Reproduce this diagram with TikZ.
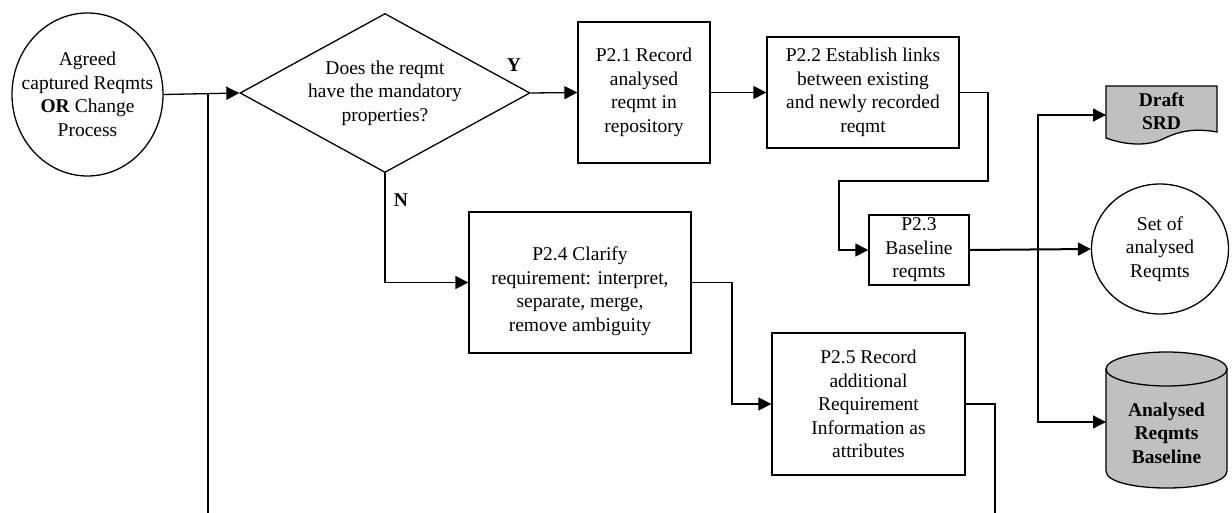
\documentclass[tikz,border=0pt]{standalone}
\usepackage{fontspec}
\setmainfont{Liberation Serif}
\usetikzlibrary{arrows.meta,shapes.geometric}
\definecolor{shade}{HTML}{C0C0C0}
\begin{document}
\begin{tikzpicture}[x=1pt,y=-1pt,
  font=\fontsize{19.5}{23.5}\selectfont,
  line width=1.3pt,
  arr/.style={-{Triangle[length=13pt,width=13pt]}},
  procbox/.style={draw,rectangle,inner sep=0pt,align=center},
  txt/.style={inner sep=0pt,align=center},
  boldtxt/.style={txt,font=\fontsize{19.5}{23.5}\selectfont\bfseries},
  lbl/.style={inner sep=0pt,font=\fontsize{19.5}{23.5}\selectfont\bfseries}]
\useasboundingbox (0,0) rectangle (1232,513);

% start terminator
\node[ellipse,draw,minimum width=151pt,minimum height=163pt,inner sep=0pt] (agreed) at (87.5,94.5) {};
\node[txt] (agreedtxt) at (agreed) {Agreed\\captured Reqmts\\\textbf{OR} Change\\Process};

% decision
\node[diamond,draw,minimum width=290pt,minimum height=159pt,aspect=1.82,inner sep=0pt,align=center]
  (dec) at (385,93) {Does the reqmt\\have the mandatory\\properties?};

% process steps
\node[procbox,minimum width=132pt,minimum height=141pt] (p21) at (644,92.5)
  {P2.1 Record\\analysed\\reqmt in\\repository};
\node[procbox,minimum width=192pt,minimum height=111pt] (p22) at (863,92.5)
  {P2.2 Establish links\\between existing\\and newly recorded\\reqmt};
\node[procbox,minimum width=100pt,minimum height=70pt] (p23) at (919,250)
  {P2.3\\Baseline\\reqmts};
\node[procbox,minimum width=222pt,minimum height=141pt] (p24) at (580,282.5) {};
\node[txt] (p24txt) at (580,291)
  {P2.4 Clarify\\requirement: interpret,\\separate, merge,\\remove ambiguity};
\node[procbox,minimum width=193pt,minimum height=142pt] (p25) at (868.5,404)
  {P2.5 Record\\additional\\Requirement\\Information as\\attributes};

% outputs: document with wavy lower edge
\filldraw[fill=shade] (1106,86) -- (1217,86) -- (1217,132)
  .. controls (1195,128) and (1180,131) .. (1165,138)
  .. controls (1148,147) and (1125,145) .. (1106,138) -- cycle;
\node[boldtxt,minimum width=111pt,minimum height=50pt] (srd) at (1161.5,111) {Draft\\SRD};
\coordinate (srdin) at (1106,115);

% outputs: set of requirements
\node[ellipse,draw,minimum width=137pt,minimum height=130pt,inner sep=0pt] (set) at (1160,249) {};
\node[txt] (settxt) at (set) {Set of\\analysed\\Reqmts};

% outputs: baseline store
\filldraw[fill=shade] (1106,369) -- (1106,471)
  .. controls (1106,493.7) and (1227,493.7) .. (1227,471) -- (1227,369) -- cycle;
\filldraw[fill=shade] (1166.5,369) ellipse [x radius=60.5, y radius=17];
\node[boldtxt] (cyl) at (1166.5,433) {Analysed\\Reqmts\\Baseline};
\coordinate (cylin) at (1106,422);

% connectors
\draw[arr] (agreed.east) -- (dec.west);
\coordinate (loopbot) at (208,513);
\draw (loopbot) -- (loopbot |- dec.west);
\draw[arr] (dec.east) -- (p21.west);
\node[lbl] (yes) at (514,65) {Y};
\draw[arr] (dec.south) |- (p24.west);
\node[lbl] (no) at (401,200) {N};
\draw[arr] (p21.east) -- (p22.west);
\draw[arr] (p22.east) -| (988,181) -| (839,250) -- (p23.west);
\coordinate (jn) at (1038,250);
\draw[arr,line width=2pt] (p23.east) -- (set.west);
\draw[arr] (jn) |- (srdin);
\draw[arr] (jn) |- (cylin);
\draw[arr] (p24.east) -- (732,282.5) |- (p25.west);
\coordinate (p25out) at (995,513);
\draw (p25.east) -| (p25out);
\end{tikzpicture}
\end{document}
